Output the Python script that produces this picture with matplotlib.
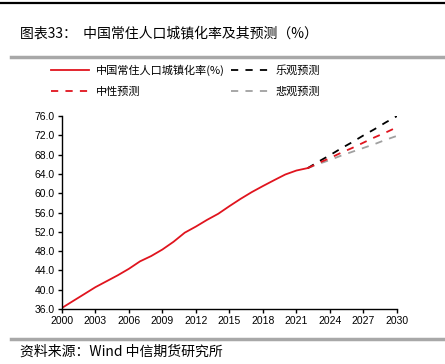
import matplotlib.pyplot as plt
from matplotlib.lines import Line2D

plt.rcParams['font.family'] = ['Noto Sans CJK SC', 'DejaVu Sans']

# data
years = list(range(2000, 2023))
urban = [36.22, 37.66, 39.09, 40.53, 41.76, 42.99, 44.34, 45.89, 46.99, 48.34,
         49.95, 51.83, 53.10, 54.49, 55.75, 57.33, 58.84, 60.24, 61.50, 62.71,
         63.89, 64.72, 65.22]
fc_years = list(range(2022, 2031))
optimistic = [65.2, 66.6, 67.9, 69.3, 70.6, 72.0, 73.3, 74.7, 76.0]
neutral = [65.2, 66.3, 67.3, 68.4, 69.4, 70.5, 71.6, 72.6, 73.7]
pessimistic = [65.2, 66.1, 66.9, 67.8, 68.6, 69.4, 70.2, 71.1, 71.9]
xticks = list(range(2000, 2031, 3))
yticks = list(range(36, 77, 4))

fig = plt.figure(figsize=(4.45, 3.64), dpi=100)
ax = fig.add_axes([0.139, 0.151, 0.753, 0.530])

dash = (0, (4, 4))
ax.plot(fc_years, pessimistic, color='#a0a0a0', lw=1.3, ls=dash)
ax.plot(fc_years, optimistic, color='black', lw=1.3, ls=dash)
ax.plot(fc_years, neutral, color='#e0141e', lw=1.3, ls=dash)
ax.plot(years, urban, color='#e0141e', lw=1.3)

ax.set_xlim(2000, 2030)
ax.set_ylim(36, 76)
ax.set_xticks(xticks)
ax.set_yticks(yticks)
ax.set_yticklabels([f'{v:.1f}' for v in yticks])
for s in ['top', 'right']:
    ax.spines[s].set_visible(False)
for s in ['left', 'bottom']:
    ax.spines[s].set_linewidth(1.0)
ax.tick_params(direction='out', length=3, width=1, labelsize=7.5, pad=2)
for lab in ax.get_xticklabels() + ax.get_yticklabels():
    lab.set_fontfamily(['Liberation Sans', 'DejaVu Sans'])

# legend
handles = [
    Line2D([], [], color='#e0141e', lw=1.3),
    Line2D([], [], color='#e0141e', lw=1.3, ls=dash),
    Line2D([], [], color='black', lw=1.3, ls=dash),
    Line2D([], [], color='#a0a0a0', lw=1.3, ls=dash),
]
labels = ['中国常住人口城镇化率(%)', '中性预测', '乐观预测', '悲观预测']
fig.legend(handles, labels, ncol=2, loc='upper left', bbox_to_anchor=(0.105, 0.835),
           frameon=False, fontsize=8, handlelength=3.4, handletextpad=0.6,
           columnspacing=0.6, labelspacing=0.95, borderaxespad=0)

# header / footer
fig.add_artist(Line2D([0.0, 1.0], [0.992, 0.992], color='black', lw=1.6))
fig.text(0.045, 0.908, '图表33：  中国常住人口城镇化率及其预测（%）', fontsize=10, va='center')
fig.add_artist(Line2D([0.025, 1.0], [0.843, 0.843], color='#a8a8a8', lw=2.5))
fig.add_artist(Line2D([0.025, 1.0], [0.069, 0.069], color='#a8a8a8', lw=2.5))
fig.text(0.045, 0.033, '资料来源：Wind 中信期货研究所', fontsize=10, va='center')

fig.savefig('out.png', dpi=100)
